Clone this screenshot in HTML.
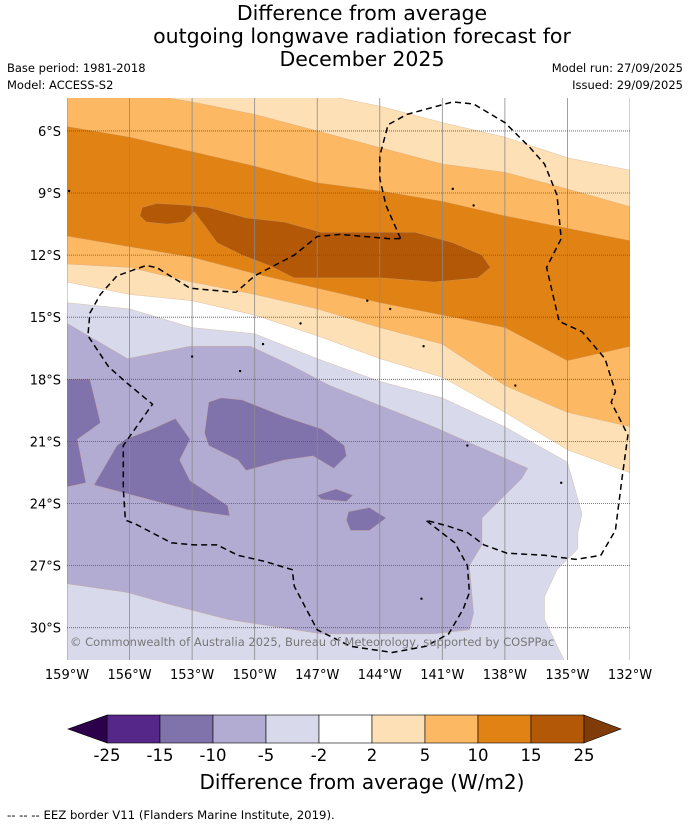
<!DOCTYPE html>
<html><head><meta charset="utf-8">
<style>
body{margin:0;background:#fff;font-family:"DejaVu Sans","Liberation Sans",sans-serif;}
#wrap{position:relative;width:690px;height:827px;overflow:hidden;}
</style></head>
<body>
<div id="wrap">
<svg id="chart" width="690" height="827" viewBox="0 0 690 827" xmlns="http://www.w3.org/2000/svg">
<g font-family="DejaVu Sans, Liberation Sans, sans-serif" fill="#000">
<text x="362" y="20" font-size="20.5" text-anchor="middle">Difference from average</text>
<text x="362" y="43" font-size="20.5" text-anchor="middle">outgoing longwave radiation forecast for</text>
<text x="362" y="66" font-size="20.5" text-anchor="middle">December 2025</text>
<text x="7" y="72" font-size="11.5">Base period: 1981-2018</text>
<text x="7" y="89" font-size="11.5">Model: ACCESS-S2</text>
<text x="683" y="72" font-size="11.5" text-anchor="end">Model run: 27/09/2025</text>
<text x="683" y="89" font-size="11.5" text-anchor="end">Issued: 29/09/2025</text>
<text x="362" y="789" font-size="20" text-anchor="middle">Difference from average (W/m2)</text>
<text x="7" y="819" font-size="11.7">--  --  -- EEZ border V11 (Flanders Marine Institute, 2019).</text>
</g>
<defs><clipPath id="mapclip"><rect x="67" y="98" width="563" height="562"/></clipPath></defs>
<g id="map" clip-path="url(#mapclip)"></g>
<g id="axes"></g>
<g id="cbar"></g>
</svg>
</div>
<script>
// Axis extents
const lonMin=-159, lonMax=-132, latTop=-4.41, latBot=-31.56;
const X0=67, X1=630, Y0=98, Y1=660;
function xs(lon){return X0+(lon-lonMin)/(lonMax-lonMin)*(X1-X0);}
function ys(lat){return Y0+(latTop-lat)/(latTop-latBot)*(Y1-Y0);}

// Data: contour boundaries sampled at grid longitudes
const gridLons=[-159,-156,-153,-150,-147,-144,-141,-138,-135,-132];
const upper2=[-4.0,-4.0,-4.0,-4.0,-4.2,-4.8,-5.6,-6.3,-7.3,-8.0];
const upper5=[-4.0,-4.1,-4.6,-5.2,-6.0,-6.8,-7.6,-8.0,-8.8,-9.8];
const upper10=[-5.7,-6.3,-7.0,-7.7,-8.5,-8.9,-9.4,-10.1,-10.7,-11.4];
const lower10=[-11.0,-11.6,-12.1,-12.9,-13.6,-14.3,-14.9,-15.5,-17.1,-16.3];
const lower5=[-12.4,-12.6,-13.3,-13.9,-14.6,-15.5,-16.3,-18.3,-19.6,-20.4];
const lower2=[-13.2,-13.9,-14.2,-14.9,-15.9,-17.0,-17.9,-19.6,-21.4,-22.7];

// Closed contour polygons [lon, lat]
const blob15=[[-155.4,-9.7],[-154.7,-9.5],[-153.1,-9.6],[-152.2,-9.7],[-150.4,-10.2],[-148.6,-10.4],[-146.8,-10.9],[-143.9,-10.9],[-142.3,-10.9],[-140.5,-11.4],[-139.1,-12.0],[-138.7,-12.6],[-139.3,-13.1],[-141.4,-13.3],[-143.9,-13.1],[-146.1,-13.1],[-148.1,-13.1],[-149.3,-12.5],[-150.6,-12.0],[-151.8,-11.4],[-152.3,-10.7],[-152.9,-9.9],[-153.4,-10.4],[-154.2,-10.5],[-155.2,-10.4],[-155.5,-10.1]];
const neg2=[[-159,-14.3],[-156,-14.6],[-153,-15.5],[-150,-15.8],[-147,-17.0],[-144,-18.1],[-141,-18.9],[-138,-20.3],[-135,-22.0],[-134.3,-24.5],[-134.5,-25.4],[-134.5,-26.2],[-135.5,-27.2],[-136.1,-28.5],[-136.1,-29.6],[-135.1,-31.7],[-159.5,-31.7]];
const neg5=[[-159.5,-15.0],[-156.1,-17.0],[-153.1,-16.4],[-150.2,-16.4],[-148.3,-17.3],[-146.4,-18.3],[-141.4,-20.3],[-136.9,-22.3],[-137.2,-22.8],[-139.1,-24.7],[-139.1,-26.0],[-139.7,-27.0],[-139.5,-29.3],[-139.7,-30.1],[-141.4,-30.3],[-146.8,-30.3],[-151.3,-29.6],[-154.0,-28.9],[-156.1,-28.3],[-159.5,-27.8]];
const neg10a=[[-159.5,-18.0],[-157.9,-18.0],[-157.4,-20.1],[-158.5,-20.9],[-158.1,-23.0],[-159.5,-23.3]];
const neg10b=[[-153.8,-19.9],[-153.1,-20.9],[-153.6,-21.9],[-153.1,-22.9],[-151.3,-24.1],[-151.2,-24.6],[-153.2,-24.3],[-157.7,-23.1],[-156.6,-21.2],[-156.2,-20.9],[-154.9,-20.4]];
const neg10c=[[-152.2,-19.1],[-151.6,-18.9],[-150.6,-19.0],[-148.6,-19.8],[-146.8,-20.4],[-145.7,-21.2],[-145.6,-21.7],[-146.2,-22.3],[-147.2,-21.7],[-148.6,-21.9],[-150.4,-22.4],[-150.8,-21.9],[-152.2,-21.2],[-152.4,-20.6]];
const neg10d=[[-147.0,-23.6],[-146.1,-23.3],[-145.3,-23.6],[-145.6,-23.9],[-146.8,-23.8]];
const neg10e=[[-145.5,-24.4],[-144.5,-24.2],[-143.7,-24.7],[-144.5,-25.3],[-145.4,-25.3],[-145.6,-24.8]];
const eez=[[-143.0,-11.2],[-143.7,-9.6],[-144.0,-8.3],[-144.0,-7.2],[-143.6,-5.7],[-142.7,-5.2],[-140.5,-4.6],[-139.5,-4.7],[-138.0,-5.6],[-136.8,-6.8],[-136.1,-7.6],[-135.5,-9.1],[-135.3,-11.2],[-136.0,-12.6],[-135.4,-15.2],[-134.3,-15.7],[-133.2,-17.0],[-132.7,-18.6],[-132.9,-19.1],[-132.1,-20.7],[-132.4,-22.9],[-132.7,-25.3],[-133.4,-26.5],[-134.6,-26.7],[-136.1,-26.5],[-137.9,-26.4],[-139.0,-26.0],[-139.8,-25.4],[-140.7,-25.1],[-141.8,-24.8],[-140.4,-25.9],[-139.8,-27.0],[-139.7,-28.3],[-140.0,-29.1],[-140.7,-30.3],[-141.8,-30.9],[-143.4,-31.2],[-145.4,-30.9],[-147.0,-30.1],[-148.1,-28.0],[-148.2,-27.2],[-149.5,-26.8],[-150.8,-26.5],[-151.8,-26.0],[-152.9,-26.0],[-154.0,-25.9],[-155.7,-25.0],[-156.2,-24.8],[-156.3,-23.3],[-156.3,-21.2],[-154.9,-19.2],[-156.1,-18.2],[-157.0,-17.4],[-158.0,-15.9],[-157.9,-14.8],[-157.4,-13.9],[-156.6,-13.0],[-155.2,-12.5],[-154.7,-12.6],[-153.1,-13.6],[-150.9,-13.8],[-150.0,-13.0],[-148.1,-12.0],[-147.0,-11.1],[-145.9,-11.0],[-143.6,-11.2],[-143.0,-11.2]];
const islands=[[-143.5,-14.6],[-144.6,-14.2],[-147.8,-15.3],[-149.6,-16.3],[-140.5,-8.8],[-139.5,-9.6],[-135.3,-23.0],[-142.0,-28.6],[-153.0,-16.9],[-150.7,-17.6],[-158.9,-8.9],[-141.9,-16.4],[-137.5,-18.3],[-139.8,-21.2]];

const latTicks=[-6,-9,-12,-15,-18,-21,-24,-27,-30];
const lonTicks=[-159,-156,-153,-150,-147,-144,-141,-138,-135,-132];
const cbLevels=[-25,-15,-10,-5,-2,2,5,10,15,25];
const cbColors=['#542788','#8073ac','#b2abd2','#d8daeb','#ffffff','#fee0b6','#fdb863','#e08214','#b35806'];

const NS='http://www.w3.org/2000/svg';
const FONT='DejaVu Sans, Liberation Sans, sans-serif';
const map=document.getElementById('map'), axes=document.getElementById('axes'), cbar=document.getElementById('cbar');
function mk(tag,attrs,parent){const e=document.createElementNS(NS,tag);for(const k in attrs)e.setAttribute(k,attrs[k]);parent.appendChild(e);return e;}
function polyStr(pts){return pts.map(p=>xs(p[0]).toFixed(1)+','+ys(p[1]).toFixed(1)).join(' ');}
function band(up,low){const pts=[];gridLons.forEach((l,i)=>pts.push([l,up[i]]));for(let i=gridLons.length-1;i>=0;i--)pts.push([gridLons[i],low[i]]);
  pts[0][0]-=0.5;pts[gridLons.length-1][0]+=0.5;pts[gridLons.length][0]+=0.5;pts[pts.length-1][0]-=0.5;return pts;}

function addPoly(pts,fill,name){
  const e=mk('polygon',{points:polyStr(pts),fill:fill,stroke:'#c9a37a','stroke-width':'0.3'},map);
  
  
}
addPoly(band(upper2,lower2),'#fee0b6','band-2-to-5');
addPoly(band(upper5,lower5),'#fdb863','band-5-to-10');
addPoly(band(upper10,lower10),'#e08214','band-10-to-15');
addPoly(blob15,'#b35806','region-15-to-25');
addPoly(neg2,'#d8daeb','region-neg5-to-neg2');
addPoly(neg5,'#b2abd2','region-neg10-to-neg5');
[neg10a,neg10b,neg10c,neg10d,neg10e].forEach(p=>addPoly(p,'#8073ac','region-neg15-to-neg10'));

// grid
lonTicks.forEach(l=>{const e=mk('line',{x1:xs(l),x2:xs(l),y1:Y0,y2:Y1,stroke:'#8a8a8a','stroke-width':'0.8'},map);
  
  });
latTicks.forEach(l=>{const e=mk('line',{x1:X0,x2:X1,y1:ys(l),y2:ys(l),stroke:'#555','stroke-width':'0.8','stroke-dasharray':'1,1'},map);
  
  });

// islands
islands.forEach(p=>{const e=mk('circle',{cx:xs(p[0]),cy:ys(p[1]),r:1.2,fill:'#000'},map);
  
  });

// EEZ
const ez=mk('polyline',{points:polyStr(eez),fill:'none',stroke:'#000','stroke-width':'1.5','stroke-dasharray':'6,4'},map);



// copyright
const cp=mk('text',{x:70,y:646,'font-size':11.5,fill:'#777','font-family':FONT},map);
cp.textContent='© Commonwealth of Australia 2025, Bureau of Meteorology, supported by COSPPac';



// tick labels
latTicks.forEach(l=>{const t=mk('text',{x:61,y:ys(l)+5,'font-size':13,'text-anchor':'end','font-family':FONT},axes);
  t.textContent=Math.abs(l)+'°S';
  
  });
lonTicks.forEach(l=>{const t=mk('text',{x:xs(l),y:679,'font-size':13,'text-anchor':'middle','font-family':FONT},axes);
  t.textContent=Math.abs(l)+'°W';
  
  });

// colorbar
const cbX0=107, cbW=53, cbY=715, cbH=28;
cbColors.forEach((c,i)=>{const r=mk('rect',{x:cbX0+i*cbW,y:cbY,width:cbW,height:cbH,fill:c,stroke:'#000','stroke-width':'0.6'},cbar);
  
  });
const tl=mk('polygon',{points:`${cbX0},${cbY} ${cbX0},${cbY+cbH} 68,${cbY+cbH/2}`,fill:'#2d004b',stroke:'#000','stroke-width':'0.6'},cbar);


const xe=cbX0+cbColors.length*cbW;
const tr=mk('polygon',{points:`${xe},${cbY} ${xe},${cbY+cbH} 621,${cbY+cbH/2}`,fill:'#7f3b08',stroke:'#000','stroke-width':'0.6'},cbar);


cbLevels.forEach((v,i)=>{const t=mk('text',{x:cbX0+i*cbW,y:761,'font-size':16.5,'text-anchor':'middle','font-family':FONT},cbar);
  t.textContent=String(v);
  
  });
</script>
</body></html>
